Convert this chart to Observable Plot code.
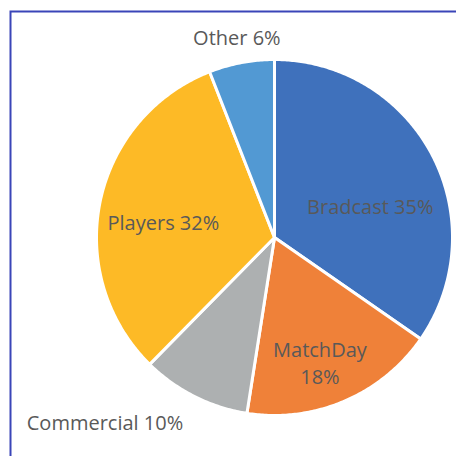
<!DOCTYPE html>
<html>
<head>
<meta charset="utf-8">
<script src="https://cdn.jsdelivr.net/npm/d3@7"></script>
<script src="https://cdn.jsdelivr.net/npm/@observablehq/plot@0.6"></script>
<style>
  html, body { margin: 0; padding: 0; background: #fff; }
  #chart { width: 456px; height: 456px; overflow: hidden; }
</style>
</head>
<body>
<div id="chart"></div>
<script>
const categories = ["Bradcast", "MatchDay", "Commercial", "Players", "Other"];
const shares = [35, 18, 10, 32, 6];
const colors = ["#3F71BC", "#EF8139", "#ADB0B1", "#FDBA26", "#5299D3"];
const labelInside = [true, true, false, true, false];
const labelLines = [["Bradcast 35%"], ["MatchDay", "18%"], ["Commercial 10%"], ["Players 32%"], ["Other 6%"]];

const cx = 274, cy = 237, R = 178;
// label placement tweaks (pixels), mimicking the spreadsheet's best-fit placement
const nudge = {Bradcast: [-2, 21], MatchDay: [2, 25], Commercial: [0, 5], Players: [-3, 8], Other: [0, 0]};

const total = d3.sum(shares);
let acc = 0;
const slices = categories.map((c, i) => {
  const a0 = acc / total * 2 * Math.PI;
  acc += shares[i];
  const a1 = acc / total * 2 * Math.PI;
  return {category: c, value: shares[i], a0, a1, mid: (a0 + a1) / 2, color: colors[i], inside: labelInside[i], lines: labelLines[i]};
});

// polygon points for each slice, in unit-circle data space
const pts = [];
for (const s of slices) {
  pts.push({category: s.category, x: 0, y: 0});
  const n = Math.max(8, Math.ceil((s.a1 - s.a0) / 0.01));
  for (let k = 0; k <= n; k++) {
    const a = s.a0 + (s.a1 - s.a0) * k / n;
    pts.push({category: s.category, x: Math.sin(a), y: Math.cos(a)});
  }
  pts.push({category: s.category, x: 0, y: 0});
}

const labels = [];
for (const s of slices) {
  const r = s.inside ? 0.62 : 1.14;
  const [nx, ny] = nudge[s.category];
  const x = r * Math.sin(s.mid) + nx / R, y = r * Math.cos(s.mid) - ny / R;
  const anchor = s.inside ? "middle" : (Math.sin(s.mid) < -0.3 ? "end" : "middle");
  s.lines.forEach((t, j) => {
    labels.push({text: t, x, y, anchor, line: j, nLines: s.lines.length});
  });
}

const fs = 20;
const chart = Plot.plot({
  width: 456,
  height: 456,
  margin: 0,
  x: {domain: [-1, 1], range: [cx - R, cx + R], axis: null},
  y: {domain: [-1, 1], range: [cy + R, cy - R], axis: null},
  color: {domain: categories, range: colors},
  style: {fontFamily: "'Open Sans', sans-serif", background: "#fff"},
  marks: [
    Plot.frame({insetLeft: 10, insetTop: 11, insetRight: -10, insetBottom: -10, stroke: "#3A45B8", strokeWidth: 2}),
    Plot.line(pts, {x: "x", y: "y", z: "category", fill: "category", stroke: "#fff", strokeWidth: 3, strokeLinejoin: "round", curve: "linear"}),
    Plot.text(labels.filter(d => d.nLines === 1 && d.anchor === "middle"), {x: "x", y: "y", text: "text", fill: "#595959", fontSize: fs, textAnchor: "middle"}),
    Plot.text(labels.filter(d => d.nLines === 1 && d.anchor === "end"), {x: "x", y: "y", text: "text", fill: "#595959", fontSize: fs, textAnchor: "end"}),
    Plot.text(labels.filter(d => d.nLines === 2 && d.line === 0), {x: "x", y: "y", text: "text", fill: "#595959", fontSize: fs, textAnchor: "middle", dy: -13.5}),
    Plot.text(labels.filter(d => d.nLines === 2 && d.line === 1), {x: "x", y: "y", text: "text", fill: "#595959", fontSize: fs, textAnchor: "middle", dy: 13.5})
  ]
});
document.getElementById("chart").appendChild(chart);
</script>
</body>
</html>
